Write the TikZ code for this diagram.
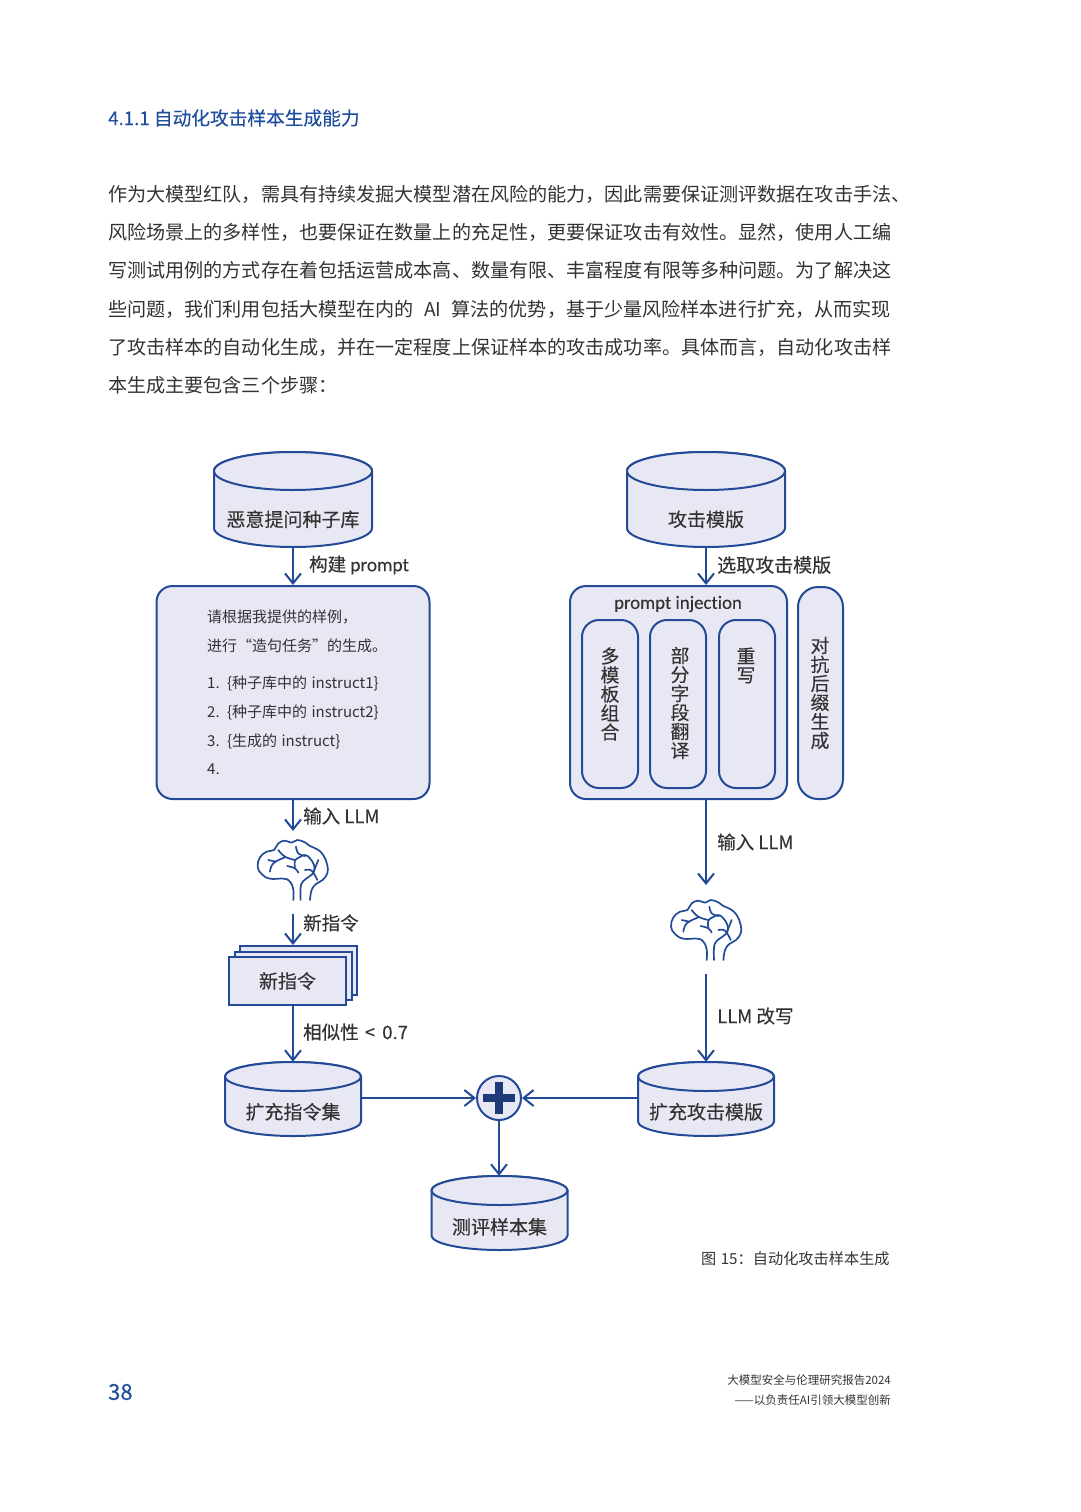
\documentclass[tikz,border=0pt]{standalone}
\usepackage{fontspec}
\setmainfont{Noto Sans CJK SC}
\newfontfamily\dia[FakeBold=0.25]{Noto Sans CJK SC}
\newfontfamily\dialat[FakeBold=0.15,Ligatures=NoCommon]{Carlito}
\usetikzlibrary{arrows.meta}
\definecolor{lineblue}{HTML}{234A96}
\definecolor{boxfill}{HTML}{E8E8F4}
\definecolor{titleblue}{HTML}{1F4E9C}
\definecolor{bodygray}{HTML}{333333}
\newcommand{\fsz}[1]{\fontsize{#1}{#1}\selectfont}
\tikzset{
  x=1pt,y=-1pt,
  shapeline/.style={draw=lineblue,line width=2pt,fill=boxfill},
  arr/.style={draw=lineblue,line width=2pt,-{Straight Barb[length=10pt,width=16pt,line width=2pt]}},
  roundbox/.style={shapeline,rounded corners=16pt,inner sep=0pt},
  pillbox/.style={shapeline,rounded corners=17pt,inner sep=0pt},
  flatbox/.style={shapeline,inner sep=0pt},
  cyllabel/.style={inner sep=0pt,text=bodygray,font=\dia\fsz{19}},
  flowlabel/.style={anchor=west,inner sep=0pt,text=bodygray,font=\dia\fsz{18.5}},
  promptline/.style={anchor=west,inner sep=0pt,text=bodygray,font=\fsz{15}},
  vertlabel/.style={inner sep=0pt,align=center,text=bodygray,font=\dia\fontsize{18.8}{19}\selectfont},
  bodyline/.style={anchor=west,inner sep=0pt,text=bodygray,font=\fsz{19.1}},
  brainline/.style={draw=lineblue,line width=1.7pt,line cap=round,line join=round},
}
% name, cx, top, bottom, rx, ry, lowering, text
\newcommand{\cylnode}[8]{%
  \path[shapeline] ({#2-#5},{#3+#6}) -- ({#2-#5},{#4-#6})
    arc[start angle=180,end angle=360,x radius=#5pt,y radius=#6pt]
    -- ({#2+#5},{#3+#6})
    arc[start angle=0,end angle=180,x radius=#5pt,y radius=#6pt] -- cycle;
  \path[shapeline] (#2,{#3+#6}) ellipse [x radius=#5pt,y radius=#6pt];
  \node[cyllabel,minimum width={2*#5*1pt},minimum height={(#4-#3)*1pt}] (#1) at (#2,{(#3+#4)/2})
    {\raisebox{-#7pt}[0pt][0pt]{#8}};
}
% stem-bottom x, y
\newcommand{\brainicon}[2]{%
  \begin{scope}[shift={(#1,#2)},x=0.3333pt,y=-0.3333pt]
    \draw[brainline] plot[smooth,tension=0.7] coordinates {(0,0) (0,-32) (-10,-55) (-28,-64) (-70,-64) (-95,-78) (-107,-100) (-100,-128) (-80,-145) (-58,-150) (-45,-170) (-25,-178) (-5,-172) (12,-180) (35,-173) (50,-162) (72,-152) (90,-135) (102,-105) (102,-80) (88,-60) (68,-48) (55,-30) (50,0)};
    \draw[brainline] plot[smooth,tension=0.7] coordinates {(22,0) (22,-38) (30,-57) (50,-72) (62,-85) (62,-105) (50,-125) (35,-135) (18,-128) (5,-118) (5,-95)};
    \draw[brainline] plot[smooth,tension=0.7] coordinates {(-45,-150) (-25,-130) (5,-120)};
    \draw[brainline] plot[smooth,tension=0.7] coordinates {(-70,-85) (-60,-110) (-25,-128)};
    \draw[brainline] plot[smooth,tension=0.7] coordinates {(-75,-120) (-52,-115)};
    \draw[brainline] plot[smooth,tension=0.7] coordinates {(8,-160) (15,-140) (35,-132)};
    \draw[brainline] plot[smooth,tension=0.7] coordinates {(-18,-102) (5,-95) (15,-82)};
    \draw[brainline] plot[smooth,tension=0.7] coordinates {(35,-90) (55,-88) (72,-60)};
    \draw[brainline] plot[smooth,tension=0.7] coordinates {(75,-120) (62,-88)};
  \end{scope}%
}
\begin{document}
\begin{tikzpicture}
\useasboundingbox[fill=white] (0,0) rectangle (1080,1512);
% page text
\node[anchor=west,inner sep=0pt,text=titleblue,font=\dia\fsz{18.7}] (title) at (108,118) {4.1.1 自动化攻击样本生成能力};
\node[bodyline] (l1) at (108,194) {作为大模型红队，需具有持续发掘大模型潜在风险的能力，因此需要保证测评数据在攻击手法、};
\node[bodyline] (l2) at (108,232) {风险场景上的多样性，也要保证在数量上的充足性，更要保证攻击有效性。显然，使用人工编};
\node[bodyline] (l3) at (108,270) {写测试用例的方式存在着包括运营成本高、数量有限、丰富程度有限等多种问题。为了解决这};
\node[bodyline] (l4) at (108,309) {些问题，我们利用包括大模型在内的\hspace{6pt} AI \hspace{6pt}算法的优势，基于少量风险样本进行扩充，从而实现};
\node[bodyline] (l5) at (108,347) {了攻击样本的自动化生成，并在一定程度上保证样本的攻击成功率。具体而言，自动化攻击样};
\node[bodyline] (l6) at (108,385) {本生成主要包含三个步骤：};
% cylinders
\cylnode{seed}{293}{452}{547}{79}{19}{27}{恶意提问种子库}
\cylnode{tmpl}{706}{452}{547}{79}{19}{27}{攻击模版}
\cylnode{exinstr}{293}{1062}{1136}{68}{14.5}{20}{扩充指令集}
\cylnode{extmpl}{706}{1062}{1136}{68}{14.5}{20}{扩充攻击模版}
\cylnode{evalset}{499.5}{1176}{1250}{68}{14.5}{21}{测评样本集}
% prompt box
\node[roundbox,minimum width=273pt,minimum height=213pt] (prompt) at (293,692.5) {};
\node[promptline] (p1) at (207,617) {请根据我提供的样例，};
\node[promptline] (p2) at (207,646) {进行“造句任务”的生成。};
\node[promptline] (p3) at (207,683.5) {1.\hspace{3pt} \{种子库中的 \hspace{1pt}instruct1\}\hspace{1pt}};
\node[promptline] (p4) at (207,712.5) {2.\hspace{3pt} \{种子库中的 \hspace{1pt}instruct2\}\hspace{1pt}};
\node[promptline] (p5) at (207,741.5) {3.\hspace{3pt} \{生成的 \hspace{1pt}instruct\}};
\node[promptline] (p6) at (207,769.5) {4.};
% injection box
\node[roundbox,minimum width=217pt,minimum height=213pt] (inject) at (678.5,692.5) {};
\node[inner sep=0pt,text=bodygray,font=\dialat\fsz{18.8}] (injt) at (678,604) {prompt injection};
\node[pillbox,minimum width=56pt,minimum height=168pt] (s1) at (610,704) {};
\node[pillbox,minimum width=56pt,minimum height=168pt] (s2) at (678,704) {};
\node[pillbox,minimum width=56pt,minimum height=168pt] (s3) at (747,704) {};
\node[vertlabel] (s1t) at (610,694) {多\\模\\板\\组\\合};
\node[vertlabel] (s2t) at (680,703) {部\\分\\字\\段\\翻\\译};
\node[vertlabel] (s3t) at (746,665.5) {重\\写};
\node[pillbox,rounded corners=20pt,minimum width=45pt,minimum height=212pt] (adv) at (820.5,693) {};
\node[vertlabel] (advt) at (820,693) {对\\抗\\后\\缀\\生\\成};
% stack
\node[flatbox,minimum width=117pt,minimum height=49pt] (stackc) at (298.5,970.5) {};
\node[flatbox,minimum width=117pt,minimum height=48pt] (stackb) at (293.5,976) {};
\node[flatbox,minimum width=117pt,minimum height=48pt,text=bodygray,font=\dia\fsz{19}] (stacka) at (287.5,981) {新指令};
% plus
\node[shapeline,circle,minimum size=44pt,inner sep=0pt] (plus) at (499,1098) {};
\fill[lineblue!80!black] (483,1094) rectangle (515,1102);
\fill[lineblue!80!black] (495,1082) rectangle (503,1114);
% brains
\brainicon{293.3}{900}
\brainicon{706.7}{960}
\coordinate (brainAin) at (293,831);
\coordinate (brainAout) at (293,914);
\coordinate (brainBin) at (706,885);
\coordinate (brainBout) at (706,974);
% connectors
\draw[arr] (seed.south) -- (prompt.north);
\draw[arr] (tmpl.south) -- (tmpl.south |- inject.north);
\draw[arr] (prompt.south) -- (brainAin);
\draw[arr] (brainAout) -- (brainAout |- stackc.north);
\draw[arr] (brainAout |- stacka.south) -- (exinstr.north);
\draw[arr] (tmpl.south |- inject.south) -- (brainBin);
\draw[arr] (brainBout) -- (extmpl.north);
\draw[arr] (exinstr.east |- plus.west) -- (plus.west);
\draw[arr] (extmpl.west |- plus.east) -- (plus.east);
\draw[arr] (plus.south) -- (plus.south |- evalset.north);
% connector labels
\node[flowlabel] (la1) at (309,565) {构建 {\dialat\fsz{19.3}prompt}};
\node[flowlabel] (la2) at (303,816) {输入 LLM};
\node[flowlabel] (la3) at (303,923) {新指令};
\node[flowlabel] (la4) at (303,1032) {相似性 \hspace{2pt}< \hspace{3pt}0.7};
\node[flowlabel,font=\dia\fsz{19}] (la5) at (717,565) {选取攻击模版};
\node[flowlabel] (la6) at (717,842) {输入 LLM};
\node[flowlabel] (la7) at (717,1016) {LLM 改写};
% caption and footer
\node[anchor=west,inner sep=0pt,text=bodygray,font=\fsz{15.2}] (cap) at (701,1259) {图\hspace{1pt} 15：自动化攻击样本生成};
\node[anchor=west,inner sep=0pt,text=titleblue,font=\dia\fsz{22}] (pageno) at (108,1392) {38};
\node[anchor=east,inner sep=0pt,text=bodygray,font=\fsz{11.5}] (foot1) at (891,1380) {大模型安全与伦理研究报告2024};
\node[anchor=east,inner sep=0pt,text=bodygray,font=\fsz{11.5}] (foot2) at (891,1400) {——以负责任AI引领大模型创新};
\end{tikzpicture}
\end{document}
